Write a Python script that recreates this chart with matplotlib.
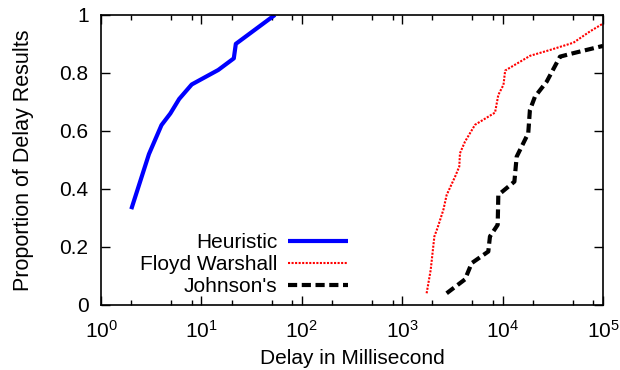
import numpy as np
import matplotlib
matplotlib.use("Agg")
import matplotlib.pyplot as plt
from matplotlib.ticker import LogLocator, FixedLocator, FuncFormatter

plt.rcParams['font.family'] = ['Liberation Sans', 'DejaVu Sans']
plt.rcParams['mathtext.fontset'] = 'custom'
plt.rcParams['mathtext.rm'] = 'Liberation Sans'

# delay (ms) vs proportion of results
heur_x = [2, 3, 4, 4.9, 6, 8, 14.7, 21, 22, 54]
heur_y = [0.33, 0.52, 0.62, 0.66, 0.71, 0.76, 0.81, 0.85, 0.90, 1.0]

floyd_x = [1750, 1920, 2090, 2240, 2570, 2770, 3360, 3700, 3760, 4220, 5310,
           8400, 9060, 10200, 10600, 18800, 29700, 50700, 74200, 100000]
floyd_y = [0.04, 0.12, 0.236, 0.264, 0.328, 0.379, 0.442, 0.477, 0.523, 0.563, 0.621,
           0.663, 0.724, 0.759, 0.808, 0.859, 0.879, 0.904, 0.943, 0.97]

john_x = [2770, 4220, 4920, 7200, 7480, 8930, 9060, 13100, 13800, 18000, 18700,
          21000, 27500, 37300, 50700, 100000]
john_y = [0.04, 0.088, 0.144, 0.184, 0.236, 0.276, 0.379, 0.425, 0.511, 0.592, 0.672,
          0.718, 0.770, 0.856, 0.868, 0.893]

fig = plt.figure(figsize=(6.2, 3.7), dpi=100)
ax = fig.add_axes([0.163, 0.176, 0.8096, 0.7838])

ax.plot(heur_x, heur_y, color='#0000ff', lw=3, label='Heuristic', solid_capstyle='butt')
ax.plot(floyd_x, floyd_y, color='#ff0000', lw=1.5, dashes=(1, 0.7), label='Floyd Warshall')
ax.plot(john_x, john_y, color='black', lw=3, dashes=(2.2, 1.1), label="Johnson's",
        dash_capstyle='butt')

ax.set_xscale('log')
ax.set_xlim(1, 1e5)
ax.set_ylim(0, 1)
ax.xaxis.set_major_locator(LogLocator(base=10, numticks=10))
ax.xaxis.set_minor_locator(LogLocator(base=10, subs=[2, 5, 8], numticks=10))
ax.yaxis.set_major_locator(FixedLocator([0, 0.2, 0.4, 0.6, 0.8, 1.0]))
ax.yaxis.set_major_formatter(FuncFormatter(lambda v, p: '%g' % v))

ax.tick_params(which='both', direction='in', top=True, right=True, labelsize=15, width=1)
ax.tick_params(which='major', length=6.5)
ax.tick_params(axis='x', which='major', pad=11)
ax.tick_params(axis='y', which='major', pad=9)
ax.tick_params(which='minor', length=3.5)
for s in ax.spines.values():
    s.set_linewidth(1.2)

ax.set_xlabel('Delay in Millisecond', fontsize=15, labelpad=5)
ax.set_ylabel('Proportion of Delay Results', fontsize=15.5, labelpad=18)

ax.legend(loc='lower right', bbox_to_anchor=(0.492, 0.03), frameon=False,
          markerfirst=False, fontsize=15, handlelength=2.9, handletextpad=0.5,
          labelspacing=0.15, borderpad=0, borderaxespad=0)

fig.savefig('out.png', dpi=100)
